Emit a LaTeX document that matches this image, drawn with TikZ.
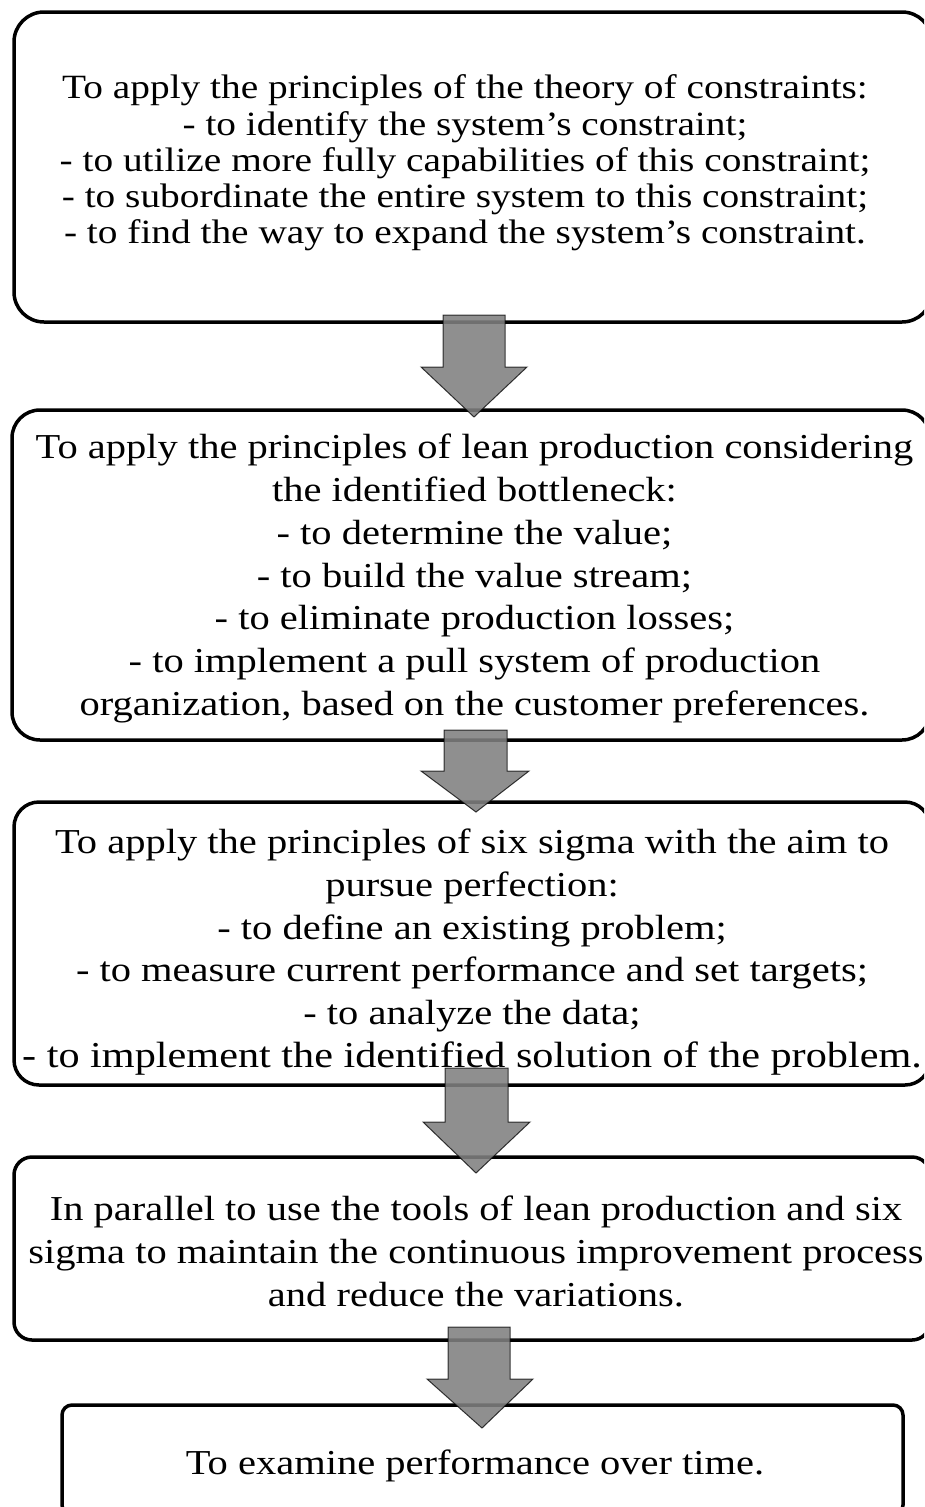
\documentclass[tikz,border=0pt]{standalone}
\usepackage{fontspec}
\setmainfont[FakeStretch=1.157]{Liberation Serif}
\AtBeginDocument{\global\lineskiplimit=-30pt\relax}
\begin{document}
\begin{tikzpicture}[x=1pt,y=-1pt,
  box/.style={draw=black, line width=3.5pt, rectangle, inner sep=0pt},
  txt/.style={align=center, inner sep=0pt},
  bigtext/.style={font=\fontsize{35}{42.7}\selectfont},
  smalltext/.style={font=\fontsize{34}{36.2}\selectfont},
  blockarrow/.style={fill={rgb,255:red,128;green,128;blue,128}, fill opacity=0.88, draw=black, draw opacity=0.75, line width=1pt, line join=miter}
]
\useasboundingbox (0,0) rectangle (924,1507);
\begin{scope}
\clip (0,0) rectangle (924,1507);
% boxes
\node[box, rounded corners=30pt, minimum width=918pt, minimum height=310pt] (b1) at (473,167) {};
\node[box, rounded corners=28pt, minimum width=918pt, minimum height=330pt] (b2) at (471,575) {};
\node[box, rounded corners=25pt, minimum width=916pt, minimum height=283pt] (b3) at (472,943.5) {};
\node[box, rounded corners=18pt, minimum width=916pt, minimum height=183pt] (b4) at (472,1248.5) {};
\node[box, rounded corners=10pt, minimum width=841pt, minimum height=110pt] (b5) at (482.5,1460) {};
% texts
\node[txt, smalltext] (t1) at (465,163) {To apply the principles of the theory of constraints:\\
- to identify the system's constraint;\\
- to utilize more fully capabilities of this constraint;\\
- to subordinate the entire system to this constraint;\\
- to find the way to expand the system's constraint.};
\node[txt, bigtext] (t2) at (474.5,578.5) {To apply the principles of lean production considering\\
the identified bottleneck:\\
- to determine the value;\\
- to build the value stream;\\
- to eliminate production losses;\\
- to implement a pull system of production\\
organization, based on the customer preferences.};
\node[txt, bigtext] (t3) at (472,952) {To apply the principles of six sigma with the aim to\\
pursue perfection:\\
- to define an existing problem;\\
- to measure current performance and set targets;\\
- to analyze the data;\\
{\fontsize{36.5}{42.7}\selectfont - to implement the identified solution of the problem.}};
\node[txt, bigtext] (t4) at (476,1251.5) {In parallel to use the tools of lean production and six\\
sigma to maintain the continuous improvement process\\
and reduce the variations.};
\node[txt, bigtext] (t5) at (475,1466) {To examine performance over time.};
% block arrows between boxes
\draw[blockarrow] (443,315) -- (505,315) -- (505,367) -- (527,367) -- (474,417) -- (421,367) -- (443,367) -- cycle;
\draw[blockarrow] (444,730) -- (507,730) -- (507,771) -- (529,771) -- (476,812) -- (421,771) -- (444,771) -- cycle;
\draw[blockarrow] (445,1068) -- (508,1068) -- (508,1122) -- (530,1122) -- (476,1173) -- (423,1122) -- (445,1122) -- cycle;
\draw[blockarrow] (448,1327) -- (510,1327) -- (510,1379) -- (533,1379) -- (482,1428) -- (427,1379) -- (448,1379) -- cycle;
\end{scope}
\end{tikzpicture}
\end{document}
